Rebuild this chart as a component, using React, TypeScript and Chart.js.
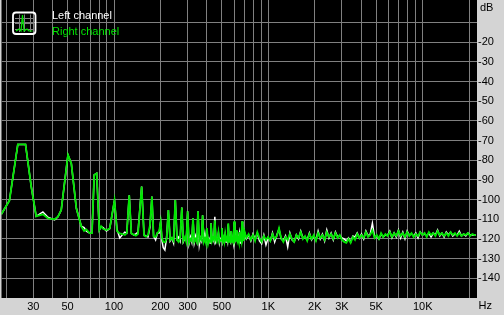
import React, { useEffect, useRef } from "react";
import { Chart, registerables } from "chart.js";

Chart.register(...registerables);

// Frequencies (Hz) shared by both channels
const FREQ_HZ: number[] = [
  18.6, 21.0, 23.8, 26.7, 29.1, 31.3, 34.6, 37.3, 41.2, 43.3,
  45.5, 50.3, 52.9, 57.0, 61.4, 64.0, 66.2, 69.5, 72.0, 74.4,
  77.2, 80.3, 82.5, 85.0, 89.3, 93.8, 100.7, 104.5, 108.9, 113.5,
  117.5, 121.0, 125.5, 129.5, 134.0, 138.5, 143.0, 151.0, 156.5, 161.0,
  166.0, 171.0, 176.0, 180.5, 186.0, 191.0, 196.0, 200.5, 204.5, 208.5,
  213.5, 219.0, 225.0, 231.0, 237.0, 243.0, 249.5, 256, 262, 268,
  275, 281, 288, 294, 300, 306, 313, 319, 325, 331,
  338, 344, 350, 357, 363, 369, 375, 382, 388, 394,
  400, 407, 413, 419, 425, 432, 438, 444, 450, 457,
  463, 469, 475, 482, 488, 494, 500, 507, 513, 519,
  525, 532, 538, 544, 550, 557, 563, 569, 575, 582,
  588, 594, 600, 607, 613, 619, 625, 632, 638, 644,
  650, 657, 663, 669, 675, 682, 688, 694, 700,
  720, 745, 770, 795, 820, 848, 876, 905, 935, 965,
  997, 1030, 1064, 1099, 1135, 1172, 1211, 1251, 1292, 1335,
  1379, 1424, 1471, 1519, 1569, 1621, 1674, 1729, 1786, 1845,
  1906, 1969, 2034, 2101, 2170, 2241, 2315, 2391, 2470, 2551,
  2635, 2722, 2812, 2904, 3000, 3099, 3201, 3306, 3415, 3528,
  3644, 3764, 3888, 4016, 4148, 4285, 4426, 4572, 4722, 4878,
  5038, 5204, 5376, 5553, 5736, 5925, 6120, 6321, 6530, 6745,
  6967, 7197, 7434, 7679, 7932, 8193, 8463, 8742, 9030, 9328,
  9635, 9953, 10281, 10620, 10970, 11331, 11704, 12090, 12488, 12900,
  13325, 13764, 14217, 14685, 15169, 15669, 16185, 16718, 17269, 17838,
  18425, 19032, 19659, 20307, 20976, 21667, 22050,
];

// Right channel level (dB), green
const RIGHT_DB: number[] = [
  -107.5, -100.5, -72, -72, -93.5, -108.5, -107.5, -109.5, -110, -108.7,
  -105.3, -77.3, -81.7, -104.4, -113.7, -116, -115.2, -117, -117, -87.5,
  -86.7, -115.5, -113.5, -114.8, -115.5, -114.7, -100.4, -116, -117.2, -117.5,
  -118, -117, -97.8, -117.2, -117.8, -118.3, -117.5, -93.4, -118.2, -118.8,
  -118, -113, -98.5, -118.8, -119, -117, -116, -111.2, -119.5, -121.5,
  -121.8, -120, -105.3, -120.5, -119.5, -121, -100.2, -120.5, -121.5, -119.5,
  -104, -121, -119, -121.5, -106, -122, -120, -121, -109.5, -121.5,
  -120, -121.5, -106, -121, -119.5, -120.5, -108, -121.5, -120, -122,
  -114.5, -122.5, -120.5, -121.5, -112, -121, -119.5, -120.5, -110.5, -120.5,
  -121.5, -119.5, -116.5, -121.5, -120.5, -121, -114.5, -121, -119.5, -121.5,
  -117.5, -121, -120, -121, -112, -121.5, -120, -121, -116, -121.5,
  -120.5, -121.5, -111, -120.5, -119.5, -121, -115.5, -121, -120, -121.5,
  -116.5, -121, -119.5, -121, -111, -120.5, -119.5, -121, -116,
  -119.5, -117.5, -120.5, -118, -121, -116.5, -119.5, -121.5, -118.5, -120.5,
  -119, -121, -117.5, -120, -118.5, -114.5, -119.5, -121.5, -119, -120.5,
  -117.5, -120, -121.5, -118, -119.5, -116.5, -120, -118.5, -121, -117.5,
  -120, -118, -121, -117, -119.5, -118, -120.5, -116.5, -119, -117.5,
  -120, -117, -119.5, -118, -120.5, -121.5, -122, -120, -122, -119,
  -120.5, -117.5, -119.5, -118, -119.5, -116.5, -119, -118, -115.5, -119.5,
  -118, -120, -117, -119, -117.5, -118.5, -116.5, -119, -117, -118.5,
  -116, -118.5, -117, -119, -116.5, -118.5, -117, -119, -117.5, -118.5,
  -116.5, -118, -117, -119, -116.5, -118, -117, -118.5, -116, -118,
  -117, -118.5, -117, -118.5, -116.5, -118, -117, -118.5, -117, -118.5,
  -117.5, -118, -117, -118.5, -117.5, -118, -118,
];

// Left channel level (dB), white
const LEFT_DB: number[] = [
  -107.5, -100.5, -72, -72, -93.5, -108.5, -106.3, -109, -110.3, -108.7,
  -105.3, -77.3, -81.7, -104.4, -113.5, -114.2, -116, -117, -117, -87.5,
  -86.7, -115.5, -113.8, -114.3, -116, -114.7, -100.4, -115, -119.5, -117.8,
  -116.5, -117, -97.8, -117.2, -118, -117.5, -116.5, -93.4, -118, -118.5,
  -119, -114, -98.5, -118.5, -120.5, -117, -117, -111.2, -121, -124.5,
  -125.6, -119.5, -105.3, -121, -119.5, -122, -100.2, -120, -119, -121,
  -104, -121.5, -119.5, -120, -106, -122.5, -119, -121.5, -109.5, -122,
  -118.5, -121, -106, -123, -119.5, -121, -108, -121.5, -117.5, -122,
  -115.5, -121.5, -120, -122, -112, -120.5, -119.5, -121, -108.7, -121.5,
  -120.5, -120, -117, -122, -120, -121, -114.5, -121.5, -120, -121,
  -118, -121.5, -119, -121, -112.5, -121, -120.5, -121.5, -116, -121,
  -120, -122, -111.5, -121, -119.5, -120.5, -116, -120.5, -121, -121,
  -117, -122, -120, -121, -111.2, -121, -119, -120.5, -116.5,
  -120, -118, -121, -117.5, -120, -117, -121, -122.5, -118, -123,
  -119.5, -121, -117, -121.5, -118, -115, -120, -121, -118.5, -124,
  -117, -120.5, -121.5, -118, -120, -116, -119.5, -119, -120.5, -117,
  -120.5, -118.5, -120.5, -116, -120, -117.5, -121, -115.5, -119.5, -117,
  -120.5, -116.5, -119, -118.5, -119.5, -120, -121, -119.5, -121.5, -118.5,
  -119, -117, -119.5, -117.5, -120, -116, -118.5, -117.5, -112, -119,
  -118.5, -120, -117.5, -119, -118, -118, -116, -119.5, -117, -119,
  -115.5, -119.5, -116.5, -120, -116, -118, -117.5, -118.5, -117, -119.5,
  -116.5, -118, -117.5, -118.5, -117, -119, -117, -118, -115.5, -118.5,
  -117, -119, -116.5, -118, -116.5, -118.5, -117.5, -118, -116, -118.5,
  -117.5, -118.5, -117, -118, -118, -118, -118,
];

const X_GRID_TICKS: number[] = [
  20, 30, 40, 50, 60, 70, 80, 90,
  100, 200, 300, 400, 500, 600, 700, 800, 900,
  1000, 2000, 3000, 4000, 5000, 6000, 7000, 8000, 9000,
  10000, 20000,
];
const X_TICK_LABELS: Record<number, string> = {
  30: "30", 50: "50", 100: "100", 200: "200", 300: "300", 500: "500",
  1000: "1K", 2000: "2K", 3000: "3K", 5000: "5K", 10000: "10K",
};
const Y_GRID_TICKS: number[] = [-10, -20, -30, -40, -50, -60, -70, -80, -90, -100, -110, -120, -130, -140];
const Y_TICK_LABELS: Record<number, string> = {
  [-20]: "-20", [-30]: "-30", [-40]: "-40", [-50]: "-50", [-60]: "-60", [-70]: "-70",
  [-80]: "-80", [-90]: "-90", [-100]: "-100", [-110]: "-110", [-120]: "-120",
  [-130]: "-130", [-140]: "-140",
};
const SERIES_NAMES = ["Left channel", "Right channel"];
const Y_UNIT = "dB";
const X_UNIT = "Hz";

const GREEN = "#00e600";
const WHITE = "#ffffff";
const GRID = "#808080";
const PANEL = "#d4d4d4";
const FONT = '11px "Liberation Sans", Arial, sans-serif';

const bgPlugin = {
  id: "blackArea",
  beforeDraw(chart: any) {
    const { ctx, chartArea: a } = chart;
    ctx.save();
    ctx.fillStyle = "#000000";
    ctx.fillRect(a.left, a.top, a.right - a.left, a.bottom - a.top);
    ctx.restore();
  },
};

const overlayPlugin = {
  id: "overlay",
  afterDatasetsDraw(chart: any) {
    const { ctx, chartArea: a } = chart;
    ctx.save();
    // legend icon
    const ix = a.left + 11.5, iy = a.top + 12.5, iw = 22.5, ih = 21.5;
    ctx.strokeStyle = GRID;
    ctx.lineWidth = 1;
    ctx.beginPath();
    for (let k = 1; k < 4; k++) {
      const gx = Math.round(ix + (iw * k) / 4) + 0.5;
      ctx.moveTo(gx, iy + 2); ctx.lineTo(gx, iy + ih - 2);
      const gy = Math.round(iy + (ih * k) / 4) + 0.5;
      ctx.moveTo(ix + 2, gy); ctx.lineTo(ix + iw - 2, gy);
    }
    ctx.stroke();
    ctx.strokeStyle = GREEN;
    ctx.lineWidth = 1.2;
    ctx.beginPath();
    ctx.moveTo(ix + 3, iy + ih - 3);
    ctx.lineTo(ix + 6, iy + ih - 5);
    ctx.lineTo(ix + 8, iy + ih - 3);
    ctx.lineTo(ix + 9.5, iy + 2.5);
    ctx.lineTo(ix + 11, iy + ih - 3);
    ctx.lineTo(ix + 14, iy + ih - 5);
    ctx.lineTo(ix + 16, iy + ih - 3);
    ctx.lineTo(ix + iw - 3, iy + ih - 3);
    ctx.stroke();
    ctx.strokeStyle = WHITE;
    ctx.lineWidth = 1.8;
    ctx.beginPath();
    (ctx as any).roundRect ? (ctx as any).roundRect(ix, iy, iw, ih, 3) : ctx.rect(ix, iy, iw, ih);
    ctx.stroke();

    // legend texts
    ctx.font = FONT;
    ctx.textAlign = "left";
    ctx.textBaseline = "alphabetic";
    ctx.fillStyle = WHITE;
    ctx.fillText(SERIES_NAMES[0], a.left + 50.5, a.top + 19);
    ctx.fillStyle = GREEN;
    ctx.fillText(SERIES_NAMES[1], a.left + 50.5, a.top + 35);
    ctx.restore();
  },
  afterDraw(chart: any) {
    const { ctx, chartArea: a } = chart;
    ctx.save();
    ctx.font = FONT;
    ctx.fillStyle = "#000000";
    ctx.textAlign = "left";
    ctx.textBaseline = "alphabetic";
    ctx.fillText(Y_UNIT, a.right + 3, a.top + 11);
    ctx.fillText(X_UNIT, a.right + 1.5, a.bottom + 10.5);
    ctx.restore();
  },
};

export default function App() {
  const ref = useRef<HTMLCanvasElement | null>(null);

  useEffect(() => {
    if (!ref.current) return;
    const n = Math.min(FREQ_HZ.length, LEFT_DB.length, RIGHT_DB.length);
    const right = [] as { x: number; y: number }[];
    const left = [] as { x: number; y: number }[];
    for (let i = 0; i < n; i++) {
      right.push({ x: FREQ_HZ[i], y: RIGHT_DB[i] });
      left.push({ x: FREQ_HZ[i], y: LEFT_DB[i] });
    }
    const chart = new Chart(ref.current, {
      type: "line",
      data: {
        datasets: [
          {
            label: SERIES_NAMES[1],
            data: right,
            borderColor: GREEN,
            borderWidth: 1.8,
            pointRadius: 0,
            tension: 0,
            order: 0,
          },
          {
            label: SERIES_NAMES[0],
            data: left,
            borderColor: WHITE,
            borderWidth: 1.5,
            pointRadius: 0,
            tension: 0,
            order: 1,
          },
        ],
      },
      options: {
        animation: false,
        responsive: false,
        parsing: false,
        layout: { padding: { left: 1.5, top: 0, right: 0, bottom: 0 } },
        plugins: { legend: { display: false }, tooltip: { enabled: false } },
        scales: {
          x: {
            type: "logarithmic",
            position: "bottom",
            min: 18.66,
            max: 22490,
            border: { display: false },
            grid: { color: GRID, lineWidth: 1, drawTicks: false },
            ticks: {
              autoSkip: false,
              maxRotation: 0,
              minRotation: 0,
              padding: 2,
              color: "#000000",
              font: { family: '"Liberation Sans", Arial, sans-serif', size: 11 },
              callback: (v: any) => X_TICK_LABELS[v as number] ?? "",
            },
            afterBuildTicks: (s: any) => {
              s.ticks = X_GRID_TICKS.map((v) => ({ value: v }));
            },
            afterFit: (s: any) => {
              s.height = 17;
              s.paddingLeft = 0;
              s.paddingRight = 0;
              s.paddingTop = 0;
              s.paddingBottom = 0;
            },
          },
          y: {
            type: "linear",
            position: "right",
            min: -150,
            max: 1.4,
            border: { display: false },
            grid: { color: GRID, lineWidth: 1, drawTicks: false },
            ticks: {
              padding: 1,
              color: "#000000",
              font: { family: '"Liberation Sans", Arial, sans-serif', size: 11 },
              callback: (v: any) => Y_TICK_LABELS[v as number] ?? "",
            },
            afterBuildTicks: (s: any) => {
              s.ticks = Y_GRID_TICKS.map((v) => ({ value: v }));
            },
            afterFit: (s: any) => {
              s.width = 27;
              s.paddingTop = 0;
              s.paddingBottom = 0;
              s.paddingLeft = 0;
              s.paddingRight = 0;
            },
          },
        },
      } as any,
      plugins: [bgPlugin, overlayPlugin],
    });
    return () => chart.destroy();
  }, []);

  return (
    <div
      style={{
        position: "fixed",
        left: 0,
        top: 0,
        width: 504,
        height: 315,
        background: PANEL,
        overflow: "hidden",
      }}
    >
      <canvas ref={ref} width={504} height={315} style={{ display: "block", width: 504, height: 315 }} />
    </div>
  );
}
